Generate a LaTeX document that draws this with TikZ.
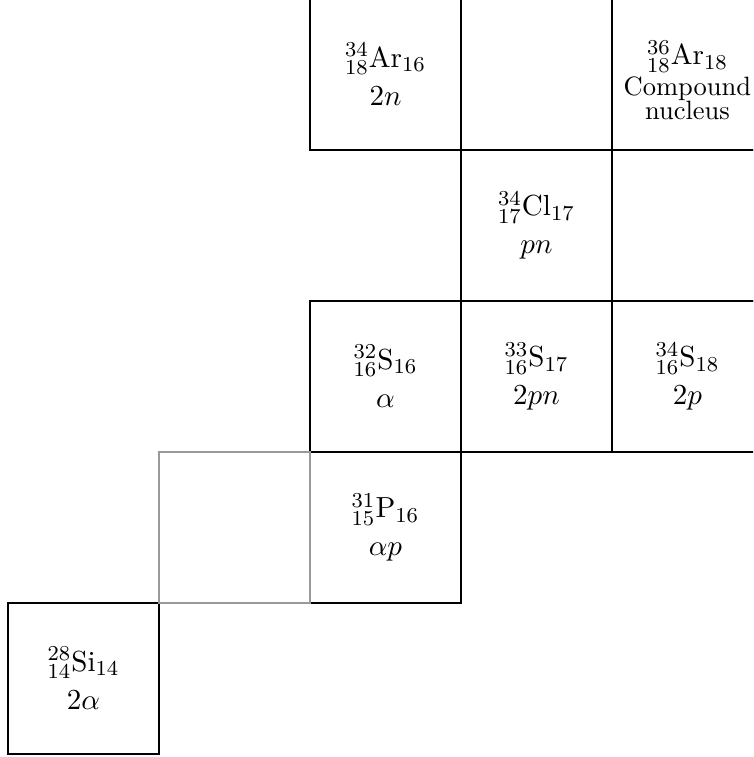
\documentclass[tikz,border=0pt]{standalone}
\begin{document}
\begin{tikzpicture}[
  cell/.style={draw=black, line width=0.4pt, minimum size=2cm, inner sep=0pt, outer sep=0pt, align=center, font=\fontsize{10.95}{14.4}\selectfont},
  ghost/.style={cell, draw=black!40}
]
\useasboundingbox (-0.106,-0.04) rectangle (9.868,9.987);
\clip (-0.106,-0.04) rectangle (9.868,9.987);
% top row
\node[cell] (ar34) at (5,9) {${}^{34}_{18}$Ar$_{16}$\\ $2n$};
\node[cell] (e1) at (7,9) {};
\node[cell] (ar36) at (9,9) {\rule{0pt}{13.5pt}${}^{36}_{18}$Ar$_{18}$\\[-2.6pt] {\fontsize{10}{12}\selectfont Compound}\\[-5.4pt] {\fontsize{10}{12}\selectfont nucleus}};
% second row
\node[cell] (cl34) at (7,7) {${}^{34}_{17}$Cl$_{17}$\\ $pn$};
\node[cell] (e2) at (9,7) {};
% third row
\node[cell] (s32) at (5,5) {${}^{32}_{16}$S$_{16}$\\ $\alpha$};
\node[cell] (s33) at (7,5) {${}^{33}_{16}$S$_{17}$\\ $2pn$};
\node[cell] (s34) at (9,5) {${}^{34}_{16}$S$_{18}$\\ $2p$};
% fourth row
\node[cell] (p31) at (5,3) {${}^{31}_{15}$P$_{16}$\\ $\alpha p$};
% bottom row
\node[cell] (si28) at (1,1) {${}^{28}_{14}$Si$_{14}$\\ $2\alpha$};
% grey empty cell
\node[ghost] (e3) at (3,3) {};
\end{tikzpicture}
\end{document}
